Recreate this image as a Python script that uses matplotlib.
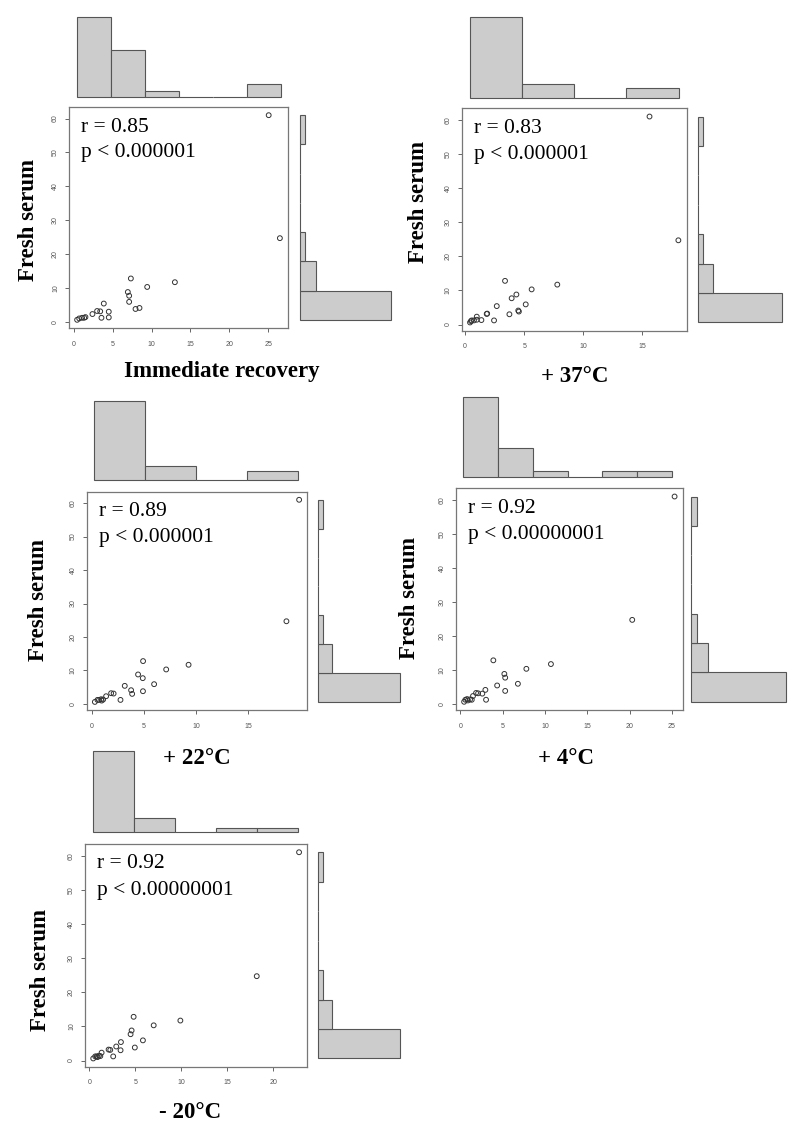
import numpy as np
import matplotlib
matplotlib.use("Agg")
import matplotlib.pyplot as plt

# ---------------- data ----------------
fresh_serum = [61.0, 24.7, 12.8, 11.7, 10.3, 8.8, 7.7, 5.9, 5.4, 4.1, 3.8,
               3.0, 3.1, 3.2, 2.3, 1.2, 1.3, 1.4, 1.2, 1.2, 1.0, 0.6]

immediate = [25.06, 26.5, 7.34, 13.0, 9.44, 6.95, 7.12, 7.12, 3.86, 8.45, 7.94,
             4.5, 3.4, 3.0, 2.4, 3.56, 4.5, 1.5, 1.33, 1.07, 0.7, 0.43]
plus37 = [15.6, 18.04, 3.38, 7.8, 5.63, 4.34, 3.94, 5.13, 2.68, 4.5, 4.55,
          3.75, 1.83, 1.87, 0.99, 2.45, 1.38, 0.99, 0.56, 0.75, 0.5, 0.42]
plus22 = [19.92, 18.7, 4.93, 9.3, 7.15, 4.45, 4.9, 5.99, 3.17, 3.78, 4.92,
          3.88, 2.1, 1.86, 1.38, 2.76, 1.09, 0.9, 0.7, 0.55, 0.95, 0.3]
plus4 = [25.3, 20.3, 3.9, 10.7, 7.8, 5.2, 5.3, 6.8, 4.35, 2.96, 5.3,
         2.6, 2.1, 1.86, 1.5, 3.04, 1.15, 0.8, 1.35, 0.6, 0.9, 0.45]
minus20 = [22.8, 18.2, 4.82, 9.9, 7.0, 4.6, 4.49, 5.83, 3.44, 2.93, 4.95,
           3.4, 2.28, 2.1, 1.34, 2.6, 1.2, 1.05, 0.8, 0.65, 0.9, 0.43]

x_series = [immediate, plus37, plus22, plus4, minus20]
x_labels = ["Immediate recovery", "+ 37\u00b0C", "+ 22\u00b0C", "+ 4\u00b0C", "- 20\u00b0C"]
r_texts = ["r = 0.85", "r = 0.83", "r = 0.89", "r = 0.92", "r = 0.92"]
p_texts = ["p < 0.000001", "p < 0.000001", "p < 0.000001",
           "p < 0.00000001", "p < 0.00000001"]
y_label = "Fresh serum"
x_bin_width = 5
y_bin_width = 10

# ---------------- layout (pixels) ----------------
W, H = 800, 1138
fig = plt.figure(figsize=(W / 100, H / 100), dpi=100)

def px_axes(x0, y0, x1, y1):
    return fig.add_axes([x0 / W, 1 - y1 / H, (x1 - x0) / W, (y1 - y0) / H])

def px_text(x, y, s, **kw):
    fig.text(x / W, 1 - y / H, s, **kw)

# box (x0,y0,x1,y1), top-hist (x0,x1,baseline,px/count), right-hist (x0,px/count),
# ylabel centre, xlabel centre
layout = [
    dict(box=(69, 107, 288, 328), top=(76.5, 280.5, 97.3, 6.7), right=(300, 5.35),
         ylab=(28, 220), xlab=(222, 372)),
    dict(box=(461.7, 108.3, 686.7, 330.7), top=(470, 678.5, 98, 4.78), right=(698, 4.94),
         ylab=(418, 202), xlab=(575, 377)),
    dict(box=(86.7, 491.7, 307.3, 710), top=(94.3, 298.3, 480, 4.67), right=(318, 4.8),
         ylab=(38, 600), xlab=(197, 758)),
    dict(box=(455.7, 488.3, 683, 710), top=(463.3, 671.7, 476.7, 5.7), right=(691, 5.6),
         ylab=(410, 598), xlab=(566, 758)),
    dict(box=(85, 844, 307.3, 1066.7), top=(92.7, 298.3, 832.3, 4.78), right=(318, 4.8),
         ylab=(40, 970), xlab=(190, 1112)),
]

serif = "Liberation Serif"
sans = "Liberation Sans"
bar_face = "#cccccc"
bar_edge = "#555555"

y = np.array(fresh_serum)
y_edges = np.arange(0, np.ceil(y.max() / y_bin_width) * y_bin_width + y_bin_width, y_bin_width)
y_counts, _ = np.histogram(y, bins=y_edges)
top_count = y_counts.max()

for xs, xl, rt, pt, L in zip(x_series, x_labels, r_texts, p_texts, layout):
    x = np.array(xs)
    bx0, by0, bx1, by1 = L["box"]
    ax = px_axes(bx0, by0, bx1, by1)
    ax.scatter(x, y, s=12, facecolors="none", edgecolors="#333333", linewidths=0.7)
    xr = x.max() - x.min()
    yr = y.max() - y.min()
    ax.set_xlim(x.min() - 0.04 * xr, x.max() + 0.04 * xr)
    ax.set_ylim(y.min() - 0.04 * yr, y.max() + 0.04 * yr)
    ax.set_xticks(np.arange(0, x.max() + 0.001, 5))
    ax.set_yticks(np.arange(0, 61, 10))
    for s in ax.spines.values():
        s.set_color("#777777")
        s.set_linewidth(0.9)
    ax.tick_params(direction="out", length=3.2, width=0.7, color="#666666",
                   labelsize=5, labelcolor="#555555")
    ax.tick_params(axis="x", pad=6)
    ax.tick_params(axis="y", pad=4)
    for lab in ax.get_xticklabels() + ax.get_yticklabels():
        lab.set_family(sans)
    for lab in ax.get_yticklabels():
        lab.set_rotation(90)
        lab.set_va("center")

    px_text(bx0 + 12, by0 + 20, rt, family=serif, fontsize=15.5, va="center", ha="left")
    px_text(bx0 + 12, by0 + 46, pt, family=serif, fontsize=15.5, va="center", ha="left")
    px_text(L["ylab"][0], L["ylab"][1], y_label, family=serif, fontsize=16.5,
            fontweight="bold", rotation=90, va="center", ha="center")
    px_text(L["xlab"][0], L["xlab"][1], xl, family=serif, fontsize=16.5,
            fontweight="bold", va="center", ha="center")

    # top histogram
    x_edges = np.arange(0, np.ceil(x.max() / x_bin_width) * x_bin_width + x_bin_width / 2, x_bin_width)
    x_counts, _ = np.histogram(x, bins=x_edges)
    tx0, tx1, base, ppc = L["top"]
    hh = top_count * ppc + 2
    axt = px_axes(tx0, base - hh, tx1, base)
    axt.bar(np.arange(len(x_counts)), x_counts, width=1, align="edge",
            color=bar_face, edgecolor=bar_edge, linewidth=0.8, clip_on=False)
    axt.set_xlim(0, len(x_counts))
    axt.set_ylim(0, hh / ppc)
    axt.axis("off")

    # right histogram
    rx0, rppc = L["right"]
    bh = by1 - by0
    ww = top_count * rppc + 2
    axr = px_axes(rx0, by0 + bh * 0.037, rx0 + ww, by1 - bh * 0.037)
    axr.barh(np.arange(len(y_counts)), y_counts, height=1, align="edge",
             color=bar_face, edgecolor=bar_edge, linewidth=0.8, clip_on=False)
    axr.set_ylim(0, len(y_counts))
    axr.set_xlim(0, ww / rppc)
    axr.axis("off")

fig.savefig("out.png", dpi=100, facecolor="white")
